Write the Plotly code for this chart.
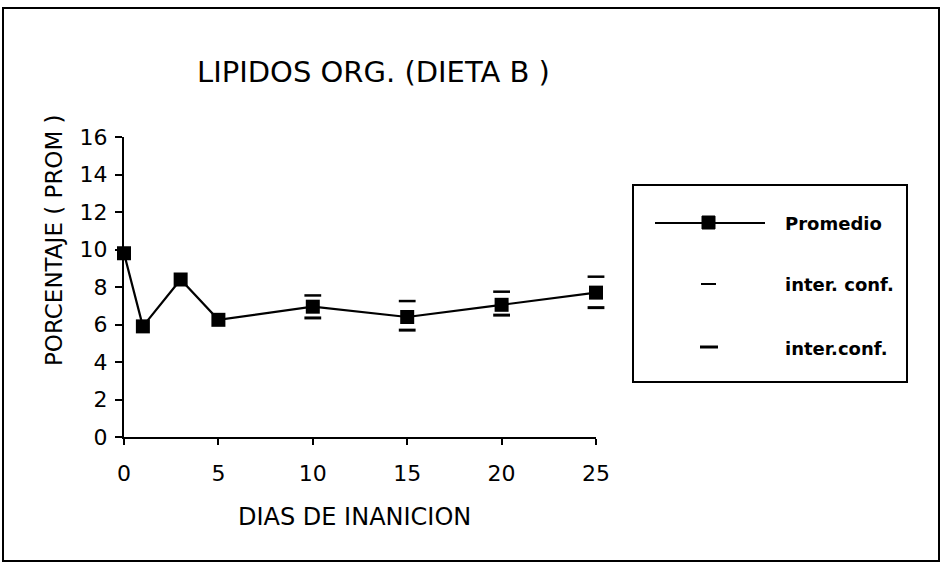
import plotly.graph_objects as go

# ---- data ----
days = [0, 1, 3, 5, 10, 15, 20, 25]
promedio = [9.8, 5.9, 8.4, 6.25, 6.95, 6.4, 7.05, 7.7]
ic_sup = [None, None, None, None, 7.55, 7.25, 7.75, 8.55]
ic_inf = [None, None, None, None, 6.35, 5.7, 6.5, 6.9]
x_ticks = [0, 5, 10, 15, 20, 25]
y_ticks = [0, 2, 4, 6, 8, 10, 12, 14, 16]

title_text = "LIPIDOS ORG. (DIETA B )"
x_title = "DIAS DE INANICION"
y_title = "PORCENTAJE ( PROM )"
legend_names = ["Promedio", "inter. conf.", "inter.conf."]

W, H = 943, 572
L, R, T, B = 124, 347, 137, 135
PW, PH = W - L - R, H - T - B


def px(x):
    return (x - L) / PW


def py(y):
    return (H - B - y) / PH


FONT = "DejaVu Sans"

fig = go.Figure()
fig.add_trace(go.Scatter(
    x=days, y=promedio, mode="lines+markers", name=legend_names[0],
    line=dict(color="black", width=2.2),
    marker=dict(symbol="square", size=14, color="black"),
    cliponaxis=False, showlegend=False))
fig.add_trace(go.Scatter(
    x=days, y=ic_sup, mode="markers", name=legend_names[1],
    marker=dict(symbol="line-ew", size=12, line=dict(color="black", width=2.5)),
    cliponaxis=False, showlegend=False))
fig.add_trace(go.Scatter(
    x=days, y=ic_inf, mode="markers", name=legend_names[2],
    marker=dict(symbol="line-ew", size=12, line=dict(color="black", width=3)),
    cliponaxis=False, showlegend=False))

shapes = [
    # outer frame
    dict(type="rect", xref="paper", yref="paper", x0=px(3), x1=px(939), y0=py(8), y1=py(561),
         line=dict(color="black", width=2)),
    # legend box
    dict(type="rect", xref="paper", yref="paper", x0=px(633), x1=px(907), y0=py(185), y1=py(382),
         line=dict(color="black", width=2)),
    # legend key: Promedio
    dict(type="line", xref="paper", yref="paper", x0=px(655), x1=px(765), y0=py(223), y1=py(223),
         line=dict(color="black", width=2)),
    dict(type="rect", xref="paper", yref="paper", x0=px(702), x1=px(715), y0=py(216), y1=py(229),
         line=dict(color="black", width=1), fillcolor="black"),
    # legend key: inter. conf.
    dict(type="line", xref="paper", yref="paper", x0=px(701), x1=px(716), y0=py(284), y1=py(284),
         line=dict(color="black", width=2)),
    dict(type="line", xref="paper", yref="paper", x0=px(700), x1=px(718), y0=py(347), y1=py(347),
         line=dict(color="black", width=3)),
]

annotations = [
    dict(text=title_text, xref="paper", yref="paper", x=px(373), y=py(72), showarrow=False,
         xanchor="center", yanchor="middle", font=dict(family=FONT, size=29, color="black")),
    dict(text=y_title, xref="paper", yref="paper", x=px(54), y=py(240), showarrow=False,
         textangle=-90, xanchor="center", yanchor="middle",
         font=dict(family=FONT, size=23, color="black")),
    dict(text=x_title, xref="paper", yref="paper", x=px(354), y=py(517), showarrow=False,
         xanchor="center", yanchor="middle", font=dict(family=FONT, size=24, color="black")),
    dict(text="<b>" + legend_names[0] + "</b>", xref="paper", yref="paper", x=px(783), y=py(223),
         showarrow=False, xanchor="left", yanchor="middle",
         font=dict(family=FONT, size=18, color="black")),
    dict(text="<b>" + legend_names[1] + "</b>", xref="paper", yref="paper", x=px(783), y=py(284),
         showarrow=False, xanchor="left", yanchor="middle",
         font=dict(family=FONT, size=18, color="black")),
    dict(text="<b>" + legend_names[2] + "</b>", xref="paper", yref="paper", x=px(783), y=py(348),
         showarrow=False, xanchor="left", yanchor="middle",
         font=dict(family=FONT, size=18, color="black")),
]

fig.update_layout(
    width=W, height=H,
    margin=dict(l=L, r=R, t=T, b=B, pad=0),
    paper_bgcolor="white", plot_bgcolor="white",
    showlegend=False,
    shapes=shapes, annotations=annotations,
    xaxis=dict(range=[0, 25], tickvals=x_ticks, ticktext=[str(v) for v in x_ticks],
               showgrid=False, zeroline=False, showline=True, linecolor="black", linewidth=2,
               ticks="outside", ticklen=6, tickwidth=2, tickcolor="black",
               ticklabelstandoff=10,
               tickfont=dict(family=FONT, size=22, color="black")),
    yaxis=dict(range=[0, 16], tickvals=y_ticks, ticktext=[str(v) for v in y_ticks],
               showgrid=False, zeroline=False, showline=True, linecolor="black", linewidth=2,
               ticks="outside", ticklen=7, tickwidth=2, tickcolor="black",
               ticklabelstandoff=3,
               tickfont=dict(family=FONT, size=22, color="black")),
)

fig.write_html("out.html", config={"displayModeBar": False})

# remove the browser's default page margin so the figure sits at (0, 0)
with open("out.html", "r", encoding="utf-8") as f:
    html = f.read()
html = html.replace("<head>", "<head><style>html,body{margin:0;padding:0;overflow:hidden;}</style>", 1)
with open("out.html", "w", encoding="utf-8") as f:
    f.write(html)
